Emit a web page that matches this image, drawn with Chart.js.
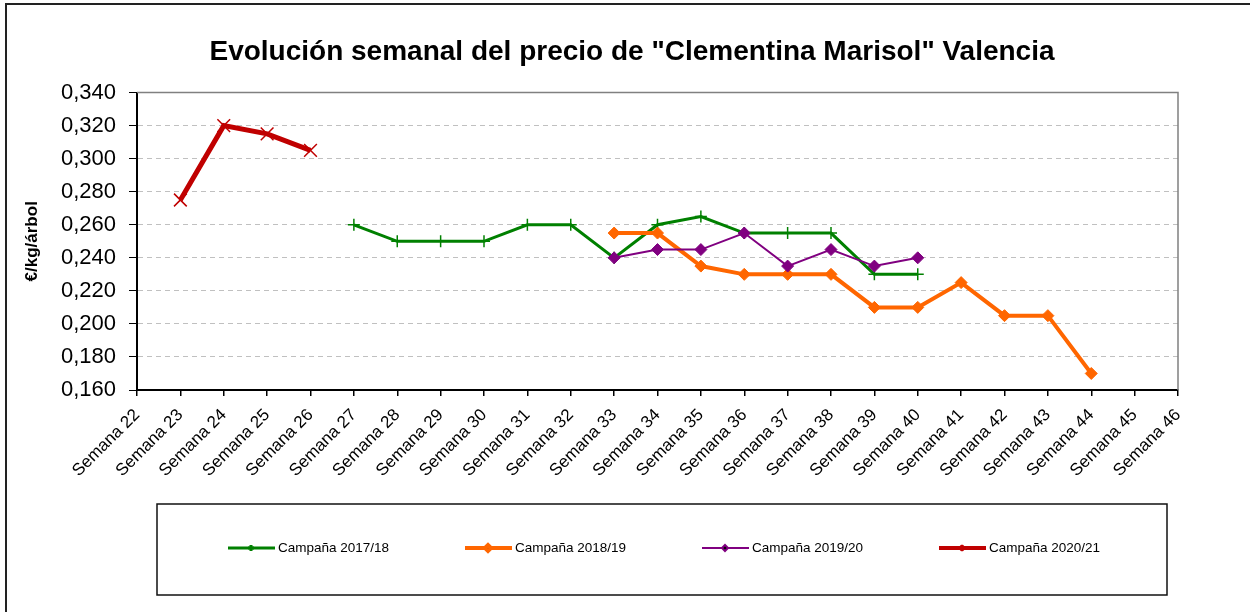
<!DOCTYPE html>
<html>
<head>
<meta charset="utf-8">
<script src="https://cdn.jsdelivr.net/npm/chart.js@4/dist/chart.umd.min.js"></script>
<style>
  html, body { margin: 0; padding: 0; background: #fff; }
  #wrap { width: 1250px; height: 612px; position: relative; }
</style>
</head>
<body>
<div id="wrap"><canvas id="grafico"></canvas></div>
<script>
const semanas = ['Semana 22', 'Semana 23', 'Semana 24', 'Semana 25', 'Semana 26', 'Semana 27', 'Semana 28',
  'Semana 29', 'Semana 30', 'Semana 31', 'Semana 32', 'Semana 33', 'Semana 34', 'Semana 35', 'Semana 36',
  'Semana 37', 'Semana 38', 'Semana 39', 'Semana 40', 'Semana 41', 'Semana 42', 'Semana 43', 'Semana 44',
  'Semana 45', 'Semana 46'];

// semana:       22    23    24    25    26    27     28     29     30     31     32     33     34     35     36     37     38     39     40     41     42     43     44    45    46
const camp1718 = [null, null, null, null, null, 0.260, 0.250, 0.250, 0.250, 0.260, 0.260, 0.240, 0.260, 0.265, 0.255, 0.255, 0.255, 0.230, 0.230, null, null, null, null, null, null];
const camp1819 = [null, null, null, null, null, null, null, null, null, null, null, 0.255, 0.255, 0.235, 0.230, 0.230, 0.230, 0.210, 0.210, 0.225, 0.205, 0.205, 0.170, null, null];
const camp1920 = [null, null, null, null, null, null, null, null, null, null, null, 0.240, 0.245, 0.245, 0.255, 0.235, 0.245, 0.235, 0.240, null, null, null, null, null, null];
const camp2021 = [null, 0.275, 0.320, 0.315, 0.305, null, null, null, null, null, null, null, null, null, null, null, null, null, null, null, null, null, null, null, null];

const nombres = ['Campaña 2017/18', 'Campaña 2018/19', 'Campaña 2019/20', 'Campaña 2020/21'];
const ejeY = { min: 0.16, max: 0.34, paso: 0.02 };

const fuente = "Arial, 'Liberation Sans', sans-serif";

// marco del area de trazado: arriba y derecha en gris
const marcoPlugin = {
  id: 'marco',
  beforeDatasetsDraw(chart) {
    const { ctx, chartArea: a } = chart;
    ctx.save();
    ctx.strokeStyle = '#808080';
    ctx.lineWidth = 1.5;
    ctx.beginPath();
    ctx.moveTo(a.left, a.top);
    ctx.lineTo(a.right, a.top);
    ctx.lineTo(a.right, a.bottom);
    ctx.stroke();
    ctx.restore();
  },
  afterDraw(chart) {
    const ctx = chart.ctx;
    ctx.save();
    // borde exterior
    ctx.strokeStyle = '#222';
    ctx.lineWidth = 2;
    ctx.strokeRect(6, 4, 1260, 620);

    // leyenda
    ctx.strokeStyle = '#111';
    ctx.lineWidth = 1.5;
    ctx.strokeRect(157, 504, 1010, 91);
    const y = 548;
    chart.data.datasets.forEach((ds, i) => {
      const x0 = 228 + i * 237;
      ctx.strokeStyle = ds.borderColor;
      ctx.lineWidth = Math.min(ds.borderWidth, 4);
      ctx.beginPath();
      ctx.moveTo(x0, y);
      ctx.lineTo(x0 + 47, y);
      ctx.stroke();
      Chart.helpers.drawPoint(ctx, {
        pointStyle: ds.pointStyle,
        radius: 3,
        borderWidth: 1.5,
        rotation: 0
      }, x0 + 23, y);
      ctx.fillStyle = '#000';
      ctx.font = '13.5px ' + fuente;
      ctx.textBaseline = 'middle';
      ctx.textAlign = 'left';
      ctx.fillText(ds.label, x0 + 50, y);
    });
    ctx.restore();
  }
};

const canvas = document.getElementById('grafico');

new Chart(canvas, {
  type: 'line',
  data: {
    labels: semanas,
    datasets: [{
      label: nombres[0],
      data: camp1718,
      borderColor: '#008000',
      backgroundColor: '#008000',
      borderWidth: 3,
      pointStyle: 'cross',
      pointRadius: 6,
      pointBorderWidth: 1.5,
      order: 4
    }, {
      label: nombres[1],
      data: camp1819,
      borderColor: '#ff6600',
      backgroundColor: '#ff6600',
      borderWidth: 4,
      pointStyle: 'rectRot',
      pointRadius: 6,
      pointBorderWidth: 1,
      order: 3
    }, {
      label: nombres[2],
      data: camp1920,
      borderColor: '#800080',
      backgroundColor: '#800080',
      borderWidth: 2,
      pointStyle: 'rectRot',
      pointRadius: 6,
      pointBorderWidth: 1,
      order: 2
    }, {
      label: nombres[3],
      data: camp2021,
      borderColor: '#c00000',
      backgroundColor: '#c00000',
      borderWidth: 5,
      pointStyle: 'crossRot',
      pointRadius: 9,
      pointBorderWidth: 1.5,
      order: 1
    }]
  },
  options: {
    responsive: true,
    maintainAspectRatio: false,
    animation: false,
    spanGaps: false,
    layout: { padding: { left: 14, right: 0, top: 0, bottom: 0 } },
    elements: { line: { tension: 0 } },
    plugins: {
      legend: { display: false },
      tooltip: { enabled: false },
      title: {
        display: true,
        text: 'Evolución semanal del precio de "Clementina Marisol" Valencia',
        color: '#000',
        font: { family: fuente, size: 28, weight: 'bold' },
        padding: { top: 35, bottom: 24 }
      }
    },
    scales: {
      x: {
        offset: false,
        afterFit(s) { s.height = 222; },
        grid: { drawOnChartArea: false, drawTicks: true, tickLength: 6, color: '#000', lineWidth: 1.5 },
        border: { color: '#000', width: 2 },
        ticks: {
          autoSkip: false,
          maxRotation: 45,
          minRotation: 45,
          color: '#000',
          padding: 9,
          font: { family: fuente, size: 17 }
        }
      },
      y: {
        min: ejeY.min,
        max: ejeY.max,
        afterFit(s) { s.width = 123; },
        grid: { color: '#c0c0c0', tickColor: '#000', tickLength: 8, lineWidth: 1 },
        border: { color: '#000', width: 2, dash: [5, 4] },
        ticks: {
          stepSize: ejeY.paso,
          color: '#000',
          padding: 13,
          font: { family: fuente, size: 22 },
          callback: v => v.toFixed(3).replace('.', ',')
        },
        title: {
          display: true,
          text: '€/kg/árbol',
          color: '#000',
          font: { family: fuente, size: 17, weight: 'bold' },
          padding: { top: 8, bottom: 0 }
        }
      },
      // eje vacio a la derecha, solo para dejar el margen
      derecha: {
        position: 'right',
        afterFit(s) { s.width = 72; },
        grid: { display: false },
        border: { display: false },
        ticks: { display: false }
      }
    }
  },
  plugins: [marcoPlugin]
});
</script>
</body>
</html>
